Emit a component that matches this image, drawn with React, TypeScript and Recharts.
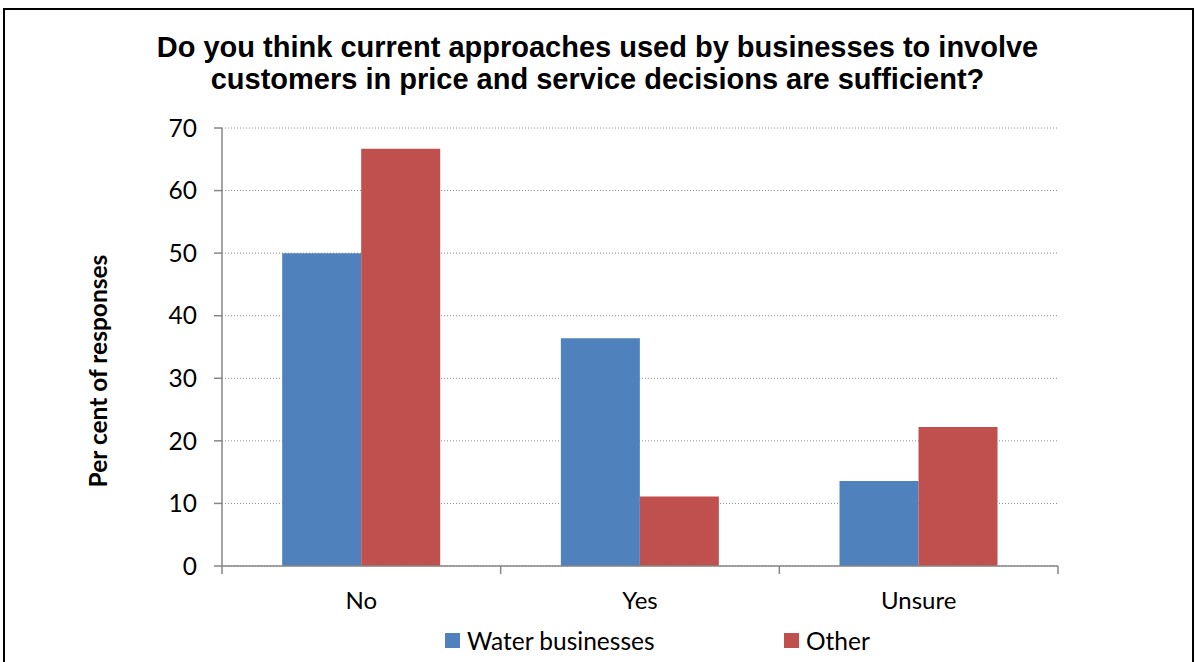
import React from "react";
import { BarChart, Bar, XAxis, YAxis, CartesianGrid } from "recharts";

const CATEGORIES = ["No", "Yes", "Unsure"];
const WATER = [50.0, 36.4, 13.6];
const OTHER = [66.7, 11.1, 22.2];
const Y_TICKS = [0, 10, 20, 30, 40, 50, 60, 70];

const SERIES = [
  { key: "water", name: "Water businesses", color: "#4F81BD" },
  { key: "other", name: "Other", color: "#C0504D" },
];

const TITLE_LINES = [
  "Do you think current approaches used by businesses to involve",
  "customers in price and service decisions are sufficient?",
];
const Y_LABEL = "Per cent of responses";

const AXIS = "#868686";
const BODY_FONT = "Lato, 'Open Sans', sans-serif";

const data = CATEGORIES.map((c, i) => ({ category: c, water: WATER[i], other: OTHER[i] }));

// category label + tick marks on band boundaries (Excel style)
function CategoryTick(props: any) {
  const { x, y, payload, index, visibleTicksCount, width } = props;
  const half = payload.offset || width / (2 * visibleTicksCount);
  return (
    <g>
      <line x1={x - half} y1={y} x2={x - half} y2={y + 8} stroke={AXIS} strokeWidth={1.5} />
      {index === visibleTicksCount - 1 && (
        <line x1={x + half} y1={y} x2={x + half} y2={y + 8} stroke={AXIS} strokeWidth={1.5} />
      )}
      <text x={x} y={y + 43} textAnchor="middle" fontSize={24} fontFamily={BODY_FONT} fill="#000">
        {payload.value}
      </text>
    </g>
  );
}

export default function App() {
  return (
    <div
      style={{
        position: "absolute",
        left: 0,
        top: 0,
        width: 1195,
        height: 662,
        overflow: "hidden",
        background: "#fff",
      }}
    >
      {/* frame */}
      <div
        style={{
          position: "absolute",
          left: 3,
          top: 8,
          width: 1187,
          height: 700,
          border: "2px solid #000",
        }}
      />

      {/* title */}
      <div
        style={{
          position: "absolute",
          left: 0,
          top: 31,
          width: 1195,
          textAlign: "center",
          fontFamily: "'Liberation Sans', Arial, sans-serif",
          fontWeight: "bold",
          fontSize: 29,
          lineHeight: "32px",
          color: "#000",
        }}
      >
        {TITLE_LINES.map((t) => (
          <div key={t}>{t}</div>
        ))}
      </div>

      <div style={{ position: "absolute", left: 0, top: 0 }}>
        <BarChart
          width={1195}
          height={662}
          data={data}
          margin={{ top: 128, right: 137, left: 0, bottom: 36 }}
          barCategoryGap="21.6%"
          barGap={0}
        >
          <CartesianGrid
            horizontal={true}
            vertical={false}
            stroke="#8c8c8c"
            strokeDasharray="1 2"
          />
          <XAxis
            dataKey="category"
            height={60}
            axisLine={{ stroke: AXIS, strokeWidth: 1.5 }}
            tickLine={false}
            tickSize={0}
            tickMargin={0}
            tick={<CategoryTick />}
            interval={0}
          />
          <YAxis
            width={222}
            domain={[0, 70]}
            ticks={Y_TICKS}
            interval={0}
            axisLine={{ stroke: AXIS, strokeWidth: 1.5 }}
            tickLine={{ stroke: AXIS, strokeWidth: 1.5 }}
            tickSize={8}
            tickMargin={17}
            tick={{ fontSize: 24.5, fill: "#000", fontFamily: BODY_FONT }}
          />
          {SERIES.map((s) => (
            <Bar key={s.key} dataKey={s.key} name={s.name} fill={s.color} isAnimationActive={false} />
          ))}
        </BarChart>
      </div>

      {/* y-axis title */}
      <div
        style={{
          position: "absolute",
          left: 97,
          top: 371,
          transform: "translate(-50%, -50%) rotate(-90deg)",
          whiteSpace: "nowrap",
          fontFamily: BODY_FONT,
          fontWeight: "bold",
          fontSize: 24.5,
          color: "#000",
        }}
      >
        {Y_LABEL}
      </div>

      {/* legend */}
      {SERIES.map((s, i) => (
        <div
          key={s.key}
          style={{
            position: "absolute",
            left: i === 0 ? 445 : 784,
            top: 626,
            height: 28,
            display: "flex",
            alignItems: "center",
            fontFamily: BODY_FONT,
            fontSize: 24.5,
            color: "#000",
            whiteSpace: "nowrap",
          }}
        >
          <span style={{ display: "inline-block", width: 15, height: 15, background: s.color, marginRight: 7 }} />
          {s.name}
        </div>
      ))}
    </div>
  );
}
